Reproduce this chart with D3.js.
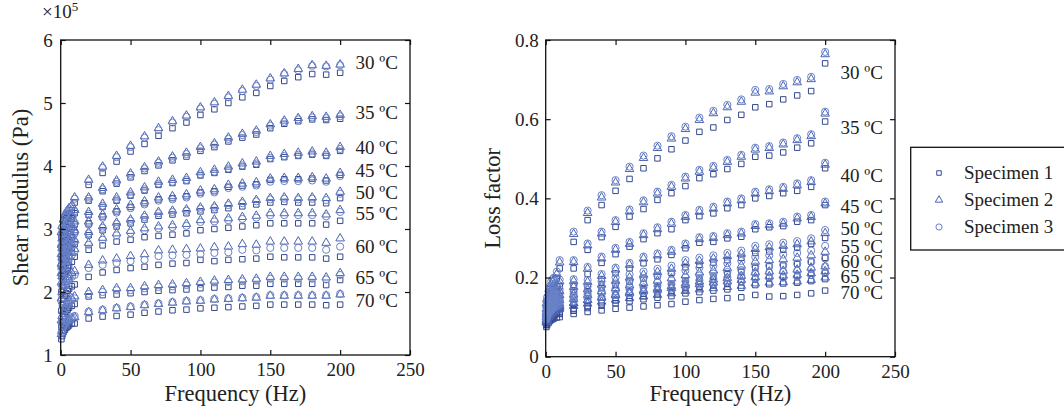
<!DOCTYPE html>
<html>
<head>
<meta charset="utf-8">
<script src="https://cdn.jsdelivr.net/npm/d3@7"></script>
<style>
  body { margin: 0; background: #fff; }
</style>
</head>
<body>
<svg id="chart" width="1064" height="414"></svg>
<script>
// frequencies (Hz) shared by every series
var freqs = [0.5, 1, 2, 3, 4, 5, 6, 8, 10, 20, 30, 40, 50, 60, 70, 80, 90, 100,
  110, 120, 130, 140, 150, 160, 170, 180, 190, 200];

var tempLabels = ["30 ºC", "35 ºC", "40 ºC", "45 ºC", "50 ºC", "55 ºC", "60 ºC", "65 ºC", "70 ºC"];
var specimens = ["Specimen 1", "Specimen 2", "Specimen 3"];

var xTicks = [0, 50, 100, 150, 200, 250];
var shearTicks = [1, 2, 3, 4, 5, 6];
var lossTicks = [0, 0.2, 0.4, 0.6, 0.8];

// shear modulus, x10^5 Pa : [specimen 1, specimen 2, specimen 3]
var shear30 = [
  [2.85,2.95,3.05,3.12,3.17,3.20,3.24,3.30,3.42,3.70,3.89,4.07,4.23,4.35,4.48,4.60,4.69,4.81,4.90,5.00,5.09,5.16,5.27,5.35,5.41,5.46,5.45,5.48],
  [2.95,3.05,3.15,3.22,3.27,3.30,3.33,3.38,3.50,3.78,3.99,4.16,4.32,4.47,4.60,4.71,4.80,4.93,5.01,5.11,5.21,5.29,5.39,5.47,5.54,5.60,5.59,5.61],
  [2.92,3.02,3.12,3.20,3.25,3.28,3.31,3.36,3.48,3.76,3.97,4.14,4.30,4.45,4.57,4.69,4.78,4.91,4.99,5.09,5.19,5.27,5.37,5.46,5.52,5.59,5.58,5.60]];
var shear35 = [
  [2.70,2.80,2.90,2.97,3.03,3.07,3.11,3.17,3.25,3.45,3.60,3.72,3.82,3.92,4.01,4.09,4.15,4.24,4.30,4.39,4.45,4.50,4.60,4.67,4.71,4.74,4.73,4.75],
  [2.75,2.85,2.95,3.02,3.08,3.12,3.16,3.22,3.30,3.50,3.65,3.77,3.88,3.98,4.07,4.15,4.21,4.30,4.36,4.45,4.51,4.56,4.66,4.72,4.76,4.79,4.78,4.81],
  [2.73,2.83,2.93,3.00,3.06,3.10,3.14,3.20,3.28,3.48,3.63,3.75,3.86,3.96,4.05,4.13,4.19,4.28,4.34,4.43,4.49,4.54,4.64,4.70,4.74,4.77,4.76,4.79]];
var shear40 = [
  [2.55,2.65,2.75,2.82,2.88,2.92,2.95,3.01,3.07,3.22,3.35,3.45,3.53,3.61,3.70,3.73,3.76,3.85,3.89,3.94,3.99,4.02,4.11,4.14,4.16,4.18,4.16,4.24],
  [2.60,2.70,2.80,2.87,2.93,2.97,3.00,3.06,3.12,3.27,3.40,3.50,3.58,3.66,3.75,3.78,3.81,3.90,3.94,3.99,4.04,4.07,4.16,4.19,4.21,4.23,4.21,4.30],
  [2.57,2.67,2.77,2.84,2.90,2.94,2.97,3.03,3.09,3.24,3.37,3.47,3.55,3.63,3.72,3.75,3.78,3.87,3.91,3.96,4.01,4.04,4.13,4.16,4.18,4.20,4.18,4.27]];
var shear45 = [
  [2.42,2.52,2.62,2.69,2.75,2.79,2.82,2.87,2.95,3.09,3.20,3.28,3.35,3.41,3.47,3.49,3.52,3.58,3.60,3.67,3.69,3.71,3.78,3.79,3.79,3.80,3.77,3.86],
  [2.45,2.55,2.65,2.72,2.78,2.82,2.85,2.90,2.98,3.12,3.23,3.31,3.38,3.44,3.50,3.52,3.55,3.61,3.63,3.70,3.72,3.74,3.80,3.81,3.81,3.82,3.80,3.89],
  [2.40,2.50,2.60,2.67,2.73,2.77,2.80,2.85,2.93,3.07,3.18,3.26,3.33,3.39,3.45,3.47,3.50,3.56,3.58,3.65,3.67,3.69,3.75,3.76,3.76,3.77,3.75,3.84]];
var shear50 = [
  [2.25,2.35,2.45,2.52,2.58,2.62,2.65,2.70,2.76,2.90,2.98,3.04,3.09,3.15,3.21,3.23,3.25,3.28,3.30,3.33,3.36,3.39,3.42,3.43,3.42,3.42,3.41,3.49],
  [2.30,2.40,2.50,2.57,2.63,2.67,2.70,2.75,2.82,2.95,3.04,3.10,3.15,3.21,3.27,3.29,3.31,3.34,3.36,3.40,3.43,3.46,3.49,3.50,3.49,3.50,3.49,3.59],
  [2.28,2.38,2.48,2.55,2.61,2.65,2.68,2.73,2.80,2.93,3.02,3.08,3.13,3.19,3.25,3.27,3.29,3.32,3.34,3.38,3.41,3.44,3.47,3.48,3.47,3.48,3.46,3.56]];
var shear55 = [
  [2.00,2.10,2.20,2.28,2.34,2.38,2.42,2.48,2.56,2.67,2.74,2.80,2.83,2.87,2.89,2.91,2.93,2.98,3.00,3.02,3.04,3.06,3.09,3.09,3.09,3.09,3.07,3.13],
  [2.15,2.25,2.35,2.42,2.48,2.52,2.56,2.62,2.68,2.78,2.86,2.93,2.97,3.01,3.04,3.06,3.08,3.14,3.15,3.17,3.19,3.21,3.25,3.25,3.25,3.25,3.23,3.30],
  [2.12,2.22,2.32,2.39,2.45,2.49,2.53,2.59,2.65,2.75,2.83,2.90,2.94,2.98,3.01,3.03,3.05,3.11,3.12,3.14,3.16,3.18,3.22,3.22,3.22,3.22,3.20,3.27]];
var shear60 = [
  [1.70,1.80,1.88,1.94,1.98,2.02,2.05,2.09,2.12,2.24,2.31,2.35,2.38,2.40,2.43,2.45,2.46,2.51,2.49,2.51,2.52,2.53,2.56,2.55,2.55,2.55,2.53,2.56],
  [1.90,2.00,2.10,2.16,2.20,2.24,2.27,2.30,2.33,2.43,2.50,2.53,2.57,2.60,2.66,2.67,2.68,2.69,2.71,2.72,2.76,2.75,2.80,2.80,2.80,2.80,2.78,2.85],
  [1.85,1.95,2.04,2.10,2.14,2.18,2.21,2.24,2.27,2.38,2.43,2.46,2.49,2.51,2.57,2.58,2.59,2.60,2.62,2.63,2.67,2.66,2.70,2.70,2.70,2.70,2.67,2.72]];
var shear65 = [
  [1.45,1.52,1.60,1.65,1.69,1.72,1.75,1.78,1.81,1.93,1.95,1.96,1.98,2.00,2.02,2.03,2.04,2.06,2.07,2.08,2.10,2.10,2.13,2.13,2.13,2.13,2.11,2.19],
  [1.55,1.62,1.70,1.75,1.80,1.83,1.86,1.90,1.93,2.00,2.03,2.06,2.06,2.09,2.11,2.12,2.14,2.16,2.18,2.19,2.20,2.21,2.24,2.24,2.24,2.24,2.23,2.30],
  [1.52,1.59,1.67,1.72,1.77,1.80,1.83,1.87,1.90,1.97,2.00,2.03,2.03,2.06,2.08,2.09,2.11,2.13,2.15,2.16,2.17,2.18,2.21,2.21,2.21,2.21,2.20,2.27]];
var shear70 = [
  [1.25,1.30,1.36,1.40,1.43,1.45,1.47,1.50,1.50,1.58,1.61,1.62,1.64,1.67,1.69,1.71,1.72,1.74,1.75,1.76,1.77,1.78,1.80,1.80,1.80,1.80,1.79,1.80],
  [1.33,1.38,1.44,1.48,1.51,1.53,1.55,1.58,1.60,1.68,1.71,1.74,1.76,1.79,1.81,1.83,1.85,1.86,1.88,1.89,1.90,1.91,1.94,1.94,1.94,1.94,1.94,1.96],
  [1.35,1.40,1.46,1.50,1.53,1.55,1.57,1.60,1.62,1.69,1.72,1.75,1.77,1.80,1.82,1.84,1.86,1.87,1.89,1.90,1.91,1.92,1.95,1.95,1.95,1.95,1.95,1.97]];

// loss factor : [specimen 1, specimen 2, specimen 3]
var loss30 = [
  [0.120,0.130,0.145,0.156,0.166,0.174,0.180,0.198,0.223,0.290,0.345,0.383,0.419,0.449,0.476,0.501,0.524,0.546,0.568,0.579,0.598,0.611,0.630,0.638,0.650,0.660,0.671,0.741],
  [0.135,0.145,0.160,0.172,0.184,0.190,0.195,0.209,0.238,0.310,0.363,0.402,0.440,0.474,0.502,0.527,0.551,0.575,0.598,0.615,0.630,0.644,0.667,0.670,0.683,0.693,0.701,0.764],
  [0.140,0.150,0.165,0.178,0.190,0.196,0.200,0.215,0.244,0.316,0.369,0.408,0.446,0.480,0.508,0.533,0.557,0.581,0.604,0.621,0.636,0.650,0.674,0.676,0.689,0.699,0.707,0.770]];
var loss35 = [
  [0.110,0.120,0.132,0.142,0.150,0.156,0.162,0.170,0.178,0.223,0.270,0.302,0.328,0.354,0.373,0.396,0.413,0.431,0.451,0.461,0.474,0.487,0.505,0.508,0.516,0.528,0.539,0.594],
  [0.121,0.131,0.144,0.154,0.162,0.168,0.174,0.182,0.190,0.239,0.281,0.311,0.340,0.367,0.390,0.412,0.429,0.450,0.467,0.477,0.492,0.505,0.523,0.527,0.536,0.547,0.557,0.614],
  [0.125,0.135,0.148,0.158,0.166,0.172,0.178,0.186,0.195,0.244,0.286,0.316,0.345,0.372,0.395,0.417,0.434,0.455,0.472,0.482,0.497,0.510,0.528,0.532,0.541,0.552,0.562,0.619]];
var loss40 = [
  [0.100,0.110,0.120,0.130,0.137,0.142,0.147,0.152,0.155,0.181,0.209,0.237,0.259,0.278,0.297,0.312,0.322,0.345,0.355,0.362,0.375,0.383,0.400,0.406,0.413,0.419,0.429,0.476],
  [0.112,0.122,0.133,0.141,0.148,0.154,0.159,0.164,0.166,0.191,0.222,0.248,0.270,0.285,0.307,0.322,0.336,0.353,0.366,0.374,0.387,0.395,0.412,0.418,0.424,0.433,0.441,0.485],
  [0.115,0.125,0.136,0.145,0.152,0.158,0.163,0.168,0.170,0.196,0.227,0.253,0.275,0.290,0.312,0.327,0.341,0.358,0.371,0.379,0.392,0.400,0.417,0.423,0.429,0.438,0.446,0.490]];
var loss45 = [
  [0.095,0.105,0.115,0.123,0.130,0.135,0.139,0.143,0.147,0.168,0.179,0.196,0.211,0.223,0.236,0.246,0.257,0.274,0.288,0.290,0.299,0.303,0.322,0.327,0.330,0.341,0.345,0.383],
  [0.106,0.116,0.126,0.134,0.141,0.146,0.150,0.154,0.156,0.176,0.189,0.204,0.220,0.232,0.248,0.256,0.265,0.281,0.297,0.300,0.307,0.311,0.330,0.332,0.336,0.349,0.353,0.387],
  [0.110,0.120,0.130,0.138,0.145,0.150,0.154,0.158,0.160,0.181,0.194,0.209,0.225,0.237,0.253,0.261,0.270,0.286,0.302,0.305,0.312,0.316,0.335,0.337,0.341,0.354,0.358,0.392]];
var loss50 = [
  [0.090,0.100,0.108,0.115,0.120,0.124,0.128,0.131,0.135,0.150,0.162,0.173,0.182,0.190,0.197,0.204,0.212,0.226,0.232,0.238,0.244,0.250,0.262,0.266,0.270,0.275,0.285,0.300],
  [0.100,0.109,0.118,0.125,0.131,0.135,0.139,0.142,0.143,0.157,0.170,0.182,0.192,0.200,0.207,0.214,0.222,0.236,0.242,0.248,0.254,0.260,0.272,0.276,0.280,0.284,0.291,0.312],
  [0.105,0.115,0.124,0.131,0.137,0.141,0.145,0.148,0.150,0.165,0.178,0.190,0.200,0.208,0.215,0.222,0.230,0.244,0.250,0.256,0.262,0.268,0.280,0.284,0.288,0.292,0.299,0.320]];
var loss55 = [
  [0.085,0.093,0.100,0.106,0.110,0.114,0.117,0.120,0.120,0.131,0.140,0.149,0.157,0.164,0.170,0.176,0.182,0.190,0.197,0.202,0.208,0.214,0.224,0.228,0.230,0.234,0.240,0.250],
  [0.094,0.102,0.110,0.116,0.121,0.125,0.128,0.131,0.134,0.146,0.156,0.165,0.173,0.180,0.186,0.192,0.198,0.206,0.213,0.218,0.224,0.230,0.240,0.244,0.246,0.250,0.256,0.265],
  [0.100,0.110,0.118,0.125,0.130,0.134,0.137,0.140,0.145,0.158,0.168,0.177,0.185,0.192,0.198,0.204,0.210,0.218,0.225,0.230,0.236,0.242,0.252,0.256,0.258,0.262,0.268,0.280]];
var loss60 = [
  [0.082,0.089,0.095,0.100,0.104,0.107,0.110,0.112,0.110,0.120,0.128,0.135,0.142,0.148,0.153,0.158,0.163,0.170,0.175,0.180,0.184,0.189,0.198,0.200,0.202,0.205,0.210,0.212],
  [0.090,0.098,0.105,0.111,0.115,0.119,0.122,0.125,0.126,0.135,0.143,0.150,0.157,0.163,0.168,0.173,0.178,0.185,0.190,0.195,0.199,0.204,0.213,0.215,0.217,0.220,0.225,0.228],
  [0.098,0.107,0.115,0.121,0.126,0.130,0.133,0.136,0.140,0.150,0.158,0.165,0.172,0.178,0.183,0.188,0.193,0.200,0.205,0.210,0.214,0.219,0.228,0.230,0.232,0.235,0.240,0.248]];
var loss65 = [
  [0.080,0.086,0.091,0.095,0.099,0.102,0.105,0.108,0.108,0.116,0.123,0.129,0.135,0.140,0.145,0.149,0.153,0.160,0.163,0.167,0.170,0.174,0.181,0.183,0.185,0.187,0.191,0.196],
  [0.088,0.095,0.102,0.107,0.111,0.115,0.118,0.121,0.128,0.136,0.143,0.149,0.155,0.160,0.165,0.169,0.173,0.180,0.183,0.187,0.190,0.194,0.201,0.203,0.205,0.207,0.211,0.216],
  [0.096,0.104,0.111,0.117,0.122,0.126,0.129,0.132,0.138,0.146,0.153,0.159,0.165,0.170,0.175,0.179,0.183,0.190,0.193,0.197,0.200,0.204,0.211,0.213,0.215,0.217,0.221,0.228]];
var loss70 = [
  [0.075,0.080,0.085,0.090,0.093,0.095,0.097,0.099,0.100,0.108,0.113,0.117,0.121,0.124,0.127,0.130,0.133,0.139,0.143,0.146,0.148,0.150,0.156,0.152,0.153,0.156,0.160,0.167],
  [0.086,0.093,0.099,0.104,0.108,0.111,0.114,0.117,0.121,0.128,0.134,0.139,0.144,0.148,0.152,0.156,0.160,0.166,0.170,0.173,0.176,0.179,0.185,0.187,0.188,0.190,0.194,0.200],
  [0.094,0.101,0.108,0.113,0.117,0.121,0.124,0.127,0.133,0.140,0.146,0.151,0.156,0.160,0.164,0.168,0.172,0.178,0.182,0.185,0.188,0.191,0.197,0.199,0.200,0.202,0.206,0.212]];

// where the temperature labels sit, in data units
var labelFreq = 211;
var shearLabelAt = [5.635, 4.841, 4.286, 3.921, 3.571, 3.238, 2.714, 2.222, 1.857];
var lossLabelAt = [0.717, 0.578, 0.456, 0.378, 0.323, 0.277, 0.239, 0.201, 0.161];

var shearSeries = [shear30, shear35, shear40, shear45, shear50, shear55, shear60, shear65, shear70];
var lossSeries = [loss30, loss35, loss40, loss45, loss50, loss55, loss60, loss65, loss70];

var svg = d3.select('#chart');
var serif = "'Liberation Serif'";
var markColors = ['#34488f', '#4b64b4', '#6a82c8'];
var markTypes = [d3.symbolSquare, d3.symbolTriangle, d3.symbolCircle];
var markSizes = [30, 32, 40];

function label(sel, size) {
  return sel.style('font-family', serif).style('font-size', size).style('fill', '#222');
}

function drawPanel(opts) {
  var x = d3.scaleLinear().domain([0, 250]).range([opts.left, opts.right]);
  var y = d3.scaleLinear().domain(opts.yDomain).range([opts.bottom, opts.top]);
  var g = svg.append('g');

  // points
  [0, 1, 2].forEach(function(k) {
    var sym = d3.symbol().type(markTypes[k]).size(markSizes[k]);
    opts.series.forEach(function(s) {
      g.selectAll(null)
        .data(freqs.map(function(f, i) { return {f: f, v: s[k][i]}; }))
        .enter().append('path')
        .attr('d', sym)
        .attr('transform', function(d) { return 'translate(' + x(d.f) + ',' + y(d.v) + ')'; })
        .attr('fill', 'none')
        .attr('stroke', markColors[k])
        .attr('stroke-width', 1);
    });
  });

  // axes (ticks pointing inward on all four sides)
  var bottom = g.append('g').attr('transform', 'translate(0,' + opts.bottom + ')')
    .call(d3.axisBottom(x).tickValues(xTicks).tickSizeInner(-5).tickSizeOuter(0).tickPadding(8));
  var top = g.append('g').attr('transform', 'translate(0,' + opts.top + ')')
    .call(d3.axisTop(x).tickValues(xTicks).tickSizeInner(-5).tickSizeOuter(0).tickFormat(''));
  var left = g.append('g').attr('transform', 'translate(' + opts.left + ',0)')
    .call(d3.axisLeft(y).tickValues(opts.yTicks).tickSizeInner(-5).tickSizeOuter(0)
      .tickPadding(opts.yPad).tickFormat(function(d) { return String(d); }));
  var right = g.append('g').attr('transform', 'translate(' + opts.right + ',0)')
    .call(d3.axisRight(y).tickValues(opts.yTicks).tickSizeInner(-5).tickSizeOuter(0).tickFormat(''));

  [bottom, top, left, right].forEach(function(a) {
    a.select('.domain').remove();
    a.selectAll('line').attr('stroke', '#111').attr('stroke-width', 1.2);
    label(a.selectAll('text'), '19px');
  });

  g.append('rect')
    .attr('x', opts.left).attr('y', opts.top)
    .attr('width', opts.right - opts.left).attr('height', opts.bottom - opts.top)
    .attr('fill', 'none').attr('stroke', '#111').attr('stroke-width', 1.3);

  // temperature labels
  label(g.selectAll(null).data(tempLabels).enter().append('text')
    .attr('x', x(labelFreq))
    .attr('y', function(d, i) { return y(opts.labelAt[i]); })
    .attr('dy', '0.33em')
    .text(function(d) { return d; }), '19px');

  // axis titles
  label(g.append('text')
    .attr('x', (opts.left + opts.right) / 2).attr('y', 401)
    .attr('text-anchor', 'middle')
    .text('Frequency (Hz)'), '22.5px');
  label(g.append('text')
    .attr('transform', 'translate(' + opts.yTitleX + ',' + ((opts.top + opts.bottom) / 2) + ') rotate(-90)')
    .attr('text-anchor', 'middle')
    .text(opts.yTitle), '22.5px');
}

drawPanel({
  left: 60.7, right: 410, top: 40, bottom: 355,
  yDomain: [1, 6], yTicks: shearTicks, yPad: 8,
  series: shearSeries, labelAt: shearLabelAt,
  yTitle: 'Shear modulus (Pa)', yTitleX: 28
});

drawPanel({
  left: 545.7, right: 895, top: 40, bottom: 356.7,
  yDomain: [0, 0.8], yTicks: lossTicks, yPad: 7,
  series: lossSeries, labelAt: lossLabelAt,
  yTitle: 'Loss factor', yTitleX: 500
});

// x10^5 multiplier
var mult = label(svg.append('text').attr('x', 42).attr('y', 18), '19px');
mult.append('tspan').text('×10');
mult.append('tspan').style('font-size', '13px').attr('dy', '-7').text('5');

// legend
var legend = svg.append('g');
legend.append('rect')
  .attr('x', 910.7).attr('y', 147.3).attr('width', 170).attr('height', 102.7)
  .attr('fill', '#fff').attr('stroke', '#111').attr('stroke-width', 1.3);
var legendY = d3.scalePoint().domain(specimens).range([173, 227]);
var legendSizes = [20, 24, 30];
specimens.forEach(function(name, k) {
  legend.append('path')
    .attr('d', d3.symbol().type(markTypes[k]).size(legendSizes[k]))
    .attr('transform', 'translate(939,' + legendY(name) + ')')
    .attr('fill', 'none').attr('stroke', markColors[k]).attr('stroke-width', 1);
  label(legend.append('text')
    .attr('x', 964).attr('y', legendY(name)).attr('dy', '0.33em')
    .text(name), '19px');
});
</script>
</body>
</html>
